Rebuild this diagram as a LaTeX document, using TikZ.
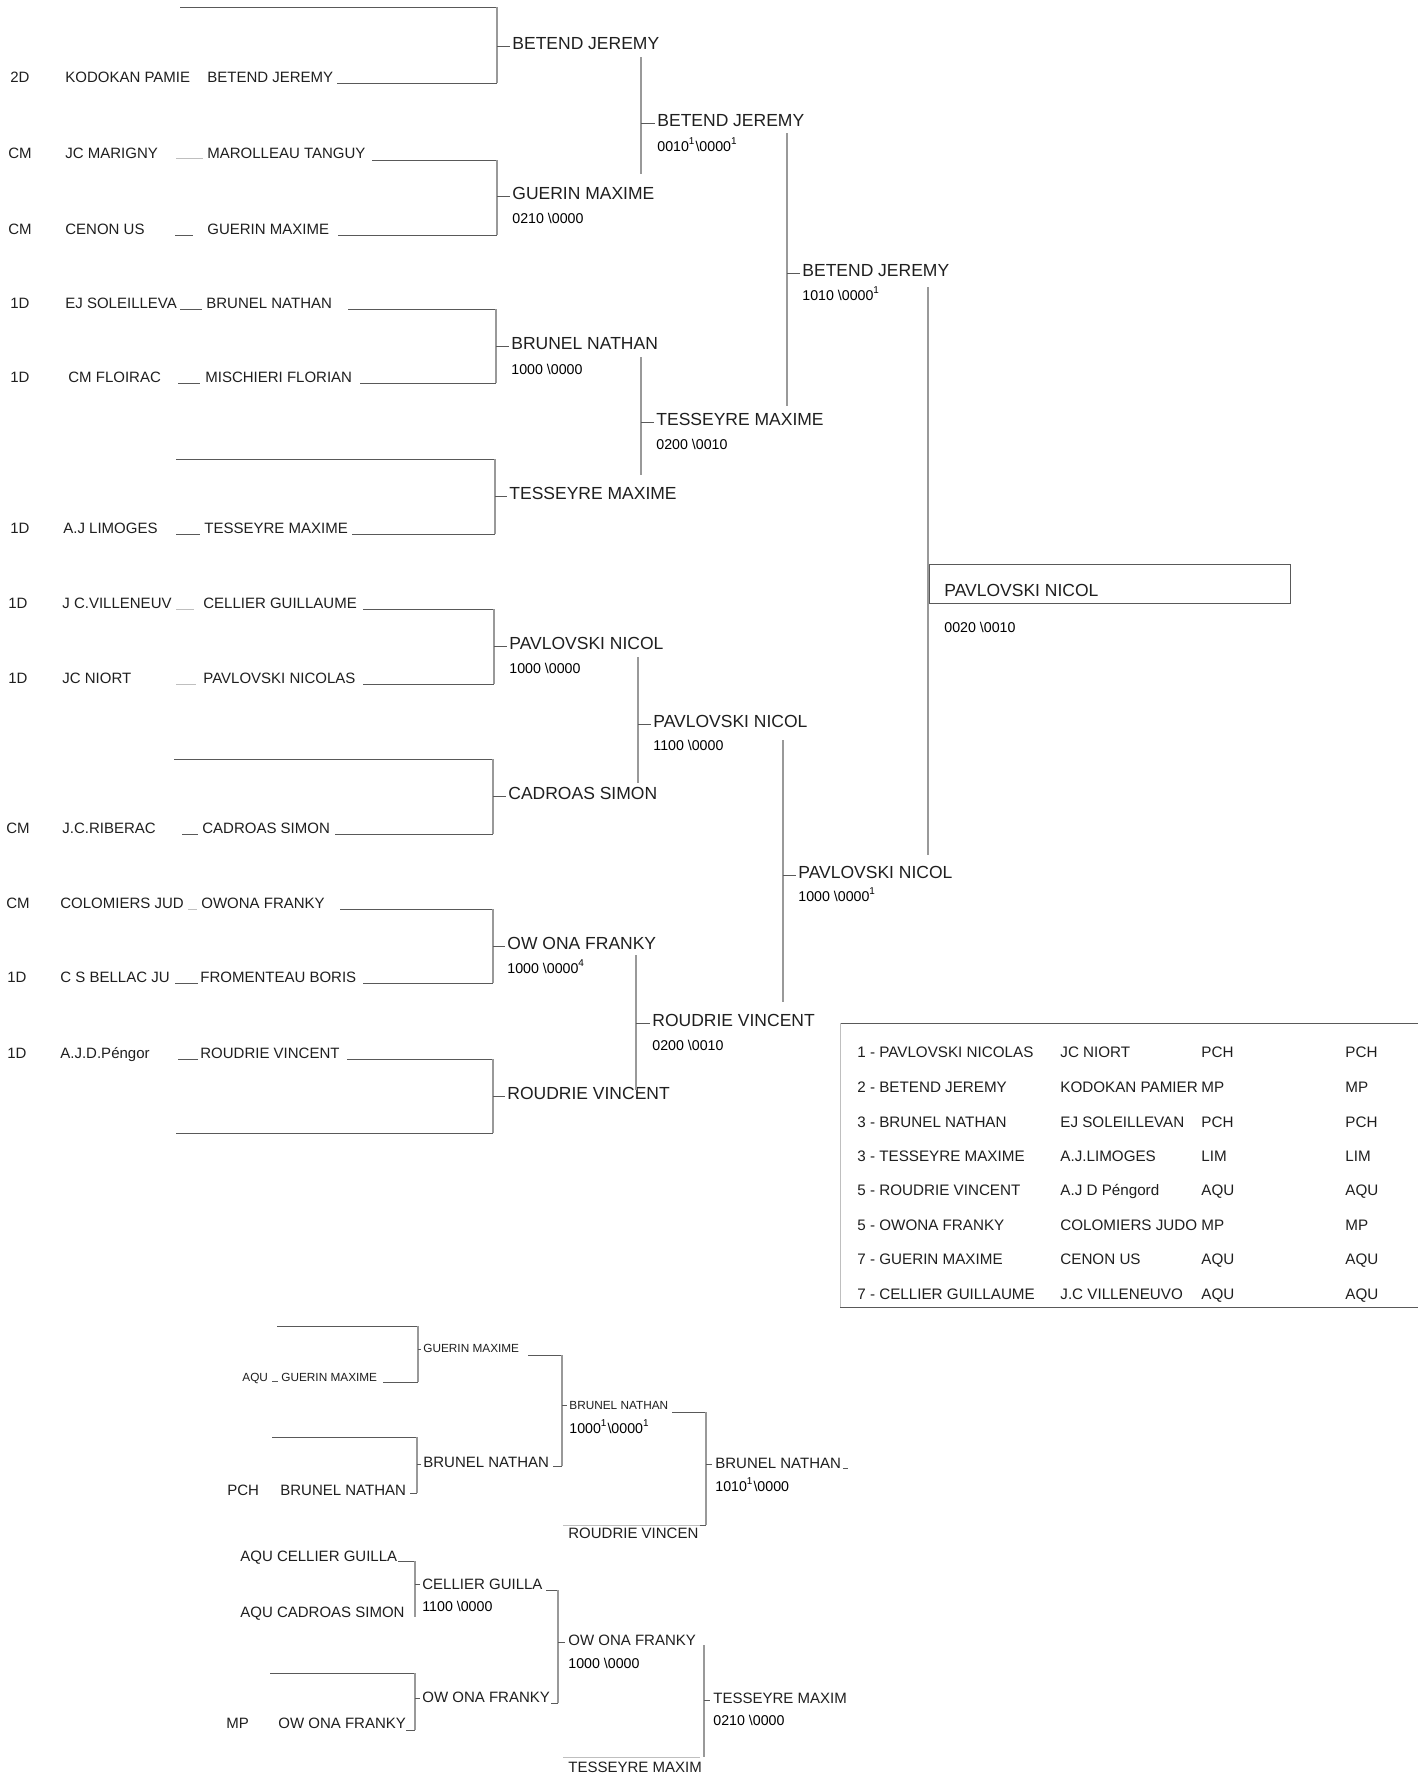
\documentclass[tikz,border=0pt]{standalone}
\usepackage{fontspec}
\setmainfont{Liberation Sans}
\newcommand{\sone}{\textsuperscript{1}}
\newcommand{\bsl}{\textbackslash}
\tikzset{
  ent/.style={anchor=base west, inner sep=0pt, text=black!88, font=\fontsize{7.5}{9}\selectfont},
  rnd/.style={anchor=base west, inner sep=0pt, text=black!88, font=\fontsize{8.75}{10}\selectfont},
  scr/.style={anchor=base west, inner sep=0pt, text=black, font=\fontsize{7.1}{9}\selectfont},
  tab/.style={anchor=base west, inner sep=0pt, text=black!88, font=\fontsize{7.6}{9}\selectfont},
  sml/.style={anchor=base west, inner sep=0pt, text=black!88, font=\fontsize{5.9}{7}\selectfont},
  ln/.style={draw=black!65, line width=0.5pt},
  vl/.style={draw=black!40, line width=0.6pt},
  fl/.style={draw=black!25, line width=0.5pt},
}
% entry row: id, baseline, grade, club, name, xg, xc, xn
\newcommand{\entryrow}[8]{%
  \node[ent] (g#1) at (#6,#2) {#3};
  \node[ent] (c#1) at (#7,#2) {#4};
  \node[ent] (n#1) at (#8,#2) {#5};}
% bracket: id, xa, ya, xb, yb, xv
\newcommand{\brk}[6]{%
  \coordinate (#1a) at (#2,#3); \coordinate (#1b) at (#4,#5);
  \coordinate (#1c) at (#6,#3); \coordinate (#1d) at (#6,#5);
  \draw[ln] (#1a) -- (#1c); \draw[vl] (#1c) -- (#1d); \draw[ln] (#1d) -- (#1b);}
% round label: id, x, base, text, x of bracket
\newcommand{\rlab}[5]{%
  \node[rnd] (#1) at (#2,#3) {#4};
  \coordinate (#1f) at (#5,#3-3); \coordinate (#1t) at (#2-2,#3-3);
  \draw[ln] (#1f) -- (#1t);}
% vertical connector: id, x, y1, y2
\newcommand{\vc}[4]{%
  \coordinate (#1a) at (#2,#3); \coordinate (#1b) at (#2,#4);
  \draw[vl] (#1a) -- (#1b);}
% short segment: id, x1, x2, y, style
\newcommand{\pd}[5]{%
  \coordinate (#1a) at (#2,#4); \coordinate (#1b) at (#3,#4);
  \draw[#5] (#1a) -- (#1b);}
% table row: id, base, name, club, ligue, ligue2
\newcommand{\trow}[6]{%
  \node[tab] (#1n) at (857,#2) {#3};
  \node[tab] (#1c) at (1060,#2) {#4};
  \node[tab] (#1l) at (1201,#2) {#5};
  \node[tab] (#1m) at (1345,#2) {#6};}
\begin{document}
\begin{tikzpicture}[x=0.5pt,y=-0.5pt]
\useasboundingbox[fill=white] (0,0) rectangle (1418,1773);

% ---------- first column entries ----------
\entryrow{1}{82}{2D}{KODOKAN PAMIE}{BETEND JEREMY}{10}{65}{207}
\entryrow{2}{158}{CM}{JC MARIGNY}{MAROLLEAU TANGUY}{8}{65}{207}
\entryrow{3}{234}{CM}{CENON US}{GUERIN MAXIME}{8}{65}{207}
\entryrow{4}{308}{1D}{EJ SOLEILLEVA}{BRUNEL NATHAN}{10}{65}{206}
\entryrow{5}{382}{1D}{CM FLOIRAC}{MISCHIERI FLORIAN}{10}{68}{205}
\entryrow{7}{533}{1D}{A.J LIMOGES}{TESSEYRE MAXIME}{10}{63}{204}
\entryrow{8}{608}{1D}{J C.VILLENEUV}{CELLIER GUILLAUME}{8}{62}{203}
\entryrow{9}{683}{1D}{JC NIORT}{PAVLOVSKI NICOLAS}{8}{62}{203}
\entryrow{11}{833}{CM}{J.C.RIBERAC}{CADROAS SIMON}{6}{62}{202}
\entryrow{12}{908}{CM}{COLOMIERS JUD}{OWONA FRANKY}{6}{60}{201}
\entryrow{13}{982}{1D}{C S BELLAC JU}{FROMENTEAU BORIS}{7}{60}{200}
\entryrow{14}{1058}{1D}{A.J.D.Péngor}{ROUDRIE VINCENT}{7}{60}{200}

% short leader fragments before names
\pd{p2}{176}{203}{158}{fl}
\pd{p3}{175}{193}{235}{ln}
\pd{p4}{180}{202}{309}{ln}
\pd{p5}{178}{200}{383}{ln}
\pd{p7}{176}{200}{534}{ln}
\pd{p8}{176}{194}{609}{fl}
\pd{p9}{176}{196}{684}{fl}
\pd{p11}{182}{198}{834}{ln}
\pd{p12}{188}{197}{909}{fl}
\pd{p13}{175}{198}{983}{ln}
\pd{p14}{178}{198}{1059}{ln}

% first round brackets
\brk{b0}{180}{7}{337}{83}{497}
\brk{b1}{372}{160}{338}{235}{497}
\brk{b2}{348}{309}{360}{383}{496}
\brk{b3}{176}{459}{352}{534}{495}
\brk{b4}{363}{609}{363}{684}{494}
\brk{b5}{174}{759}{335}{834}{493}
\brk{b6}{340}{909}{363}{983}{493}
\brk{b7}{347}{1059}{176}{1133}{493}

% ---------- round 2 ----------
\rlab{ra}{512}{49}{BETEND JEREMY}{497}
\rlab{rb}{512}{199}{GUERIN MAXIME}{497}
\node[scr] (sb) at (512,223) {0210 \bsl0000};
\rlab{rc}{511}{349}{BRUNEL NATHAN}{496}
\node[scr] (sc) at (511,374) {1000 \bsl0000};
\rlab{rd}{509}{499}{TESSEYRE MAXIME}{495}
\rlab{re}{509}{649}{PAVLOVSKI NICOL}{494}
\node[scr] (se) at (509,673) {1000 \bsl0000};
\rlab{rf}{508}{799}{CADROAS SIMON}{493}
\rlab{rg}{507}{949}{OW ONA FRANKY}{493}
\node[scr] (sg) at (507,973) {1000 \bsl0000\textsuperscript{4}};
\rlab{rh}{507}{1099}{ROUDRIE VINCENT}{493}

\vc{va}{641}{57}{174}
\vc{vb}{641}{357}{475}
\vc{vc}{638}{657}{783}
\vc{vd}{636}{955}{1090}

% ---------- round 3 ----------
\rlab{ta}{657}{126}{BETEND JEREMY}{641}
\node[scr] (tas) at (657,151) {0010\sone\bsl0000\sone};
\rlab{tb}{656}{425}{TESSEYRE MAXIME}{641}
\node[scr] (tbs) at (656,449) {0200 \bsl0010};
\rlab{tc}{653}{727}{PAVLOVSKI NICOL}{638}
\node[scr] (tcs) at (653,750) {1100 \bsl0000};
\rlab{td}{652}{1026}{ROUDRIE VINCENT}{636}
\node[scr] (tds) at (652,1050) {0200 \bsl0010};

\vc{wa}{787}{133}{406}
\vc{wb}{783}{740}{1002}

% ---------- round 4 ----------
\rlab{ua}{802}{276}{BETEND JEREMY}{787}
\node[scr] (uas) at (802,300) {1010 \bsl0000\sone};
\rlab{ub}{798}{878}{PAVLOVSKI NICOL}{783}
\node[scr] (ubs) at (798,901) {1000 \bsl0000\sone};

\vc{fa}{928}{287}{855}

% ---------- final ----------
\coordinate (fb1) at (929,564); \coordinate (fb2) at (1290,603);
\draw[ln] (fb1) rectangle (fb2);
\node[rnd] (fin) at (944,596) {PAVLOVSKI NICOL};
\node[scr] (fins) at (944,632) {0020 \bsl0010};

% ---------- ranking table ----------
\coordinate (tbA) at (840,1023); \coordinate (tbB) at (1418,1023);
\coordinate (tbC) at (840,1307); \coordinate (tbD) at (1418,1307);
\draw[ln] (tbB) -- (tbA); \draw[fl] (tbA) -- (tbC); \draw[ln] (tbC) -- (tbD);
\trow{q1}{1057}{1 - PAVLOVSKI NICOLAS}{JC NIORT}{PCH}{PCH}
\trow{q2}{1092}{2 - BETEND JEREMY}{KODOKAN PAMIER}{MP}{MP}
\trow{q3}{1127}{3 - BRUNEL NATHAN}{EJ SOLEILLEVAN}{PCH}{PCH}
\trow{q4}{1161}{3 - TESSEYRE MAXIME}{A.J.LIMOGES}{LIM}{LIM}
\trow{q5}{1195}{5 - ROUDRIE VINCENT}{A.J D Péngord}{AQU}{AQU}
\trow{q6}{1230}{5 - OWONA FRANKY}{COLOMIERS JUDO}{MP}{MP}
\trow{q7}{1264}{7 - GUERIN MAXIME}{CENON US}{AQU}{AQU}
\trow{q8}{1299}{7 - CELLIER GUILLAUME}{J.C VILLENEUVO}{AQU}{AQU}

% ---------- repechage section ----------
\brk{ba}{277}{1326}{383}{1382}{418}
\node[sml] (bag) at (242,1381) {AQU};
\pd{bau}{272}{278}{1381}{ln}
\node[sml] (ban) at (281,1381) {GUERIN MAXIME};
\node[sml] (bar) at (423,1352) {GUERIN MAXIME};
\pd{bad}{418}{421}{1349}{ln}
\brk{bb}{528}{1355}{553}{1466}{562}

\brk{bc}{272}{1437}{410}{1493}{417}
\node[ent] (bcg) at (227,1495) {PCH};
\node[ent] (bcn) at (280,1495) {BRUNEL NATHAN};
\node[ent] (bcr) at (423,1467) {BRUNEL NATHAN};
\pd{bcd}{417}{421}{1464}{ln}

\node[sml] (bdr) at (569,1409) {BRUNEL NATHAN};
\pd{bdd}{562}{567}{1405}{ln}
\brk{bd}{672}{1412}{700}{1525}{706}
\pd{bdf}{563}{700}{1525}{fl}
\node[scr] (bds) at (569,1433) {1000\sone\bsl0000\sone};
\node[ent] (bdx) at (568,1538) {ROUDRIE VINCEN};

\node[ent] (ber) at (715,1468) {BRUNEL NATHAN};
\pd{beu}{843}{848}{1468}{ln}
\pd{bed}{706}{712}{1464}{ln}
\node[scr] (bes) at (715,1491) {1010\sone\bsl0000};

\node[ent] (bfa) at (240,1561) {AQU CELLIER GUILLA};
\node[ent] (bfb) at (240,1617) {AQU CADROAS SIMON};
\coordinate (bfu1) at (398,1561); \coordinate (bfu2) at (415,1561); \coordinate (bfu3) at (415,1617);
\draw[ln] (bfu1) -- (bfu2); \draw[vl] (bfu2) -- (bfu3);
\node[ent] (bfr) at (422,1589) {CELLIER GUILLA};
\pd{bfd}{415}{420}{1584}{ln}
\node[scr] (bfs) at (422,1611) {1100 \bsl0000};
\brk{bf}{546}{1590}{551}{1703}{558}

\brk{bg}{270}{1673}{406}{1730}{415}
\node[ent] (bgg) at (226,1728) {MP};
\node[ent] (bgn) at (278,1728) {OW ONA FRANKY};
\node[ent] (bgr) at (422,1702) {OW ONA FRANKY};
\pd{bgd}{415}{420}{1698}{ln}

\node[ent] (bhr) at (568,1645) {OW ONA FRANKY};
\pd{bhd}{558}{565}{1642}{ln}
\node[scr] (bhs) at (568,1668) {1000 \bsl0000};
\vc{bhv}{704}{1645}{1757}
\node[ent] (bir) at (713,1703) {TESSEYRE MAXIM};
\pd{bid}{704}{710}{1700}{ln}
\node[scr] (bis) at (713,1725) {0210 \bsl0000};
\pd{bjf}{563}{700}{1757}{fl}
\node[ent] (bjx) at (568,1772) {TESSEYRE MAXIM};
\end{tikzpicture}
\end{document}
